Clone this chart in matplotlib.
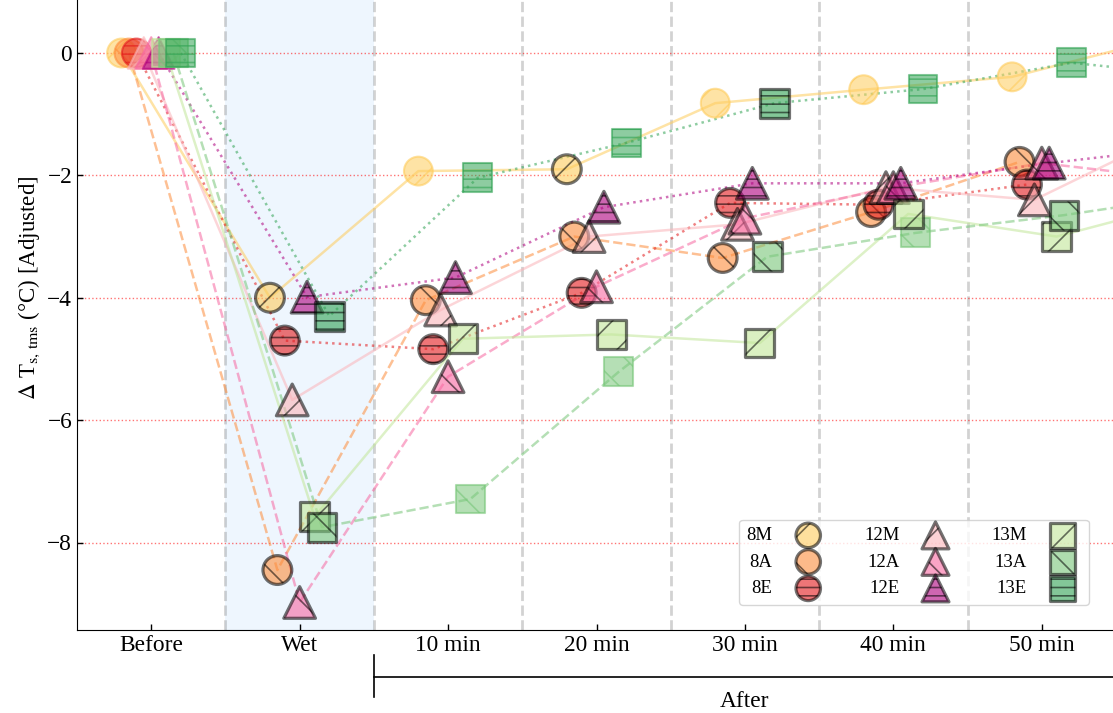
import numpy as np
import matplotlib
matplotlib.use('Agg')
import matplotlib.pyplot as plt
from matplotlib.colors import to_rgba

plt.rcParams['font.family'] = 'serif'
plt.rcParams['font.serif'] = ['Liberation Serif', 'DejaVu Serif']
plt.rcParams['mathtext.fontset'] = 'stix'
plt.rcParams['hatch.linewidth'] = 1.2

#stages on the x axis (60 min lies past the right edge)
stages = ['Before', 'Wet', '10 min', '20 min', '30 min', '40 min', '50 min', '60 min']
labels = ['8M', '8A', '8E', '12M', '12A', '12E', '13M', '13A', '13E']

#change of surface temperature, one value per stage
dT_8M = [0, -4.00, -1.93, -1.90, -0.82, -0.60, -0.39, 0.23]
dT_8A = [0, -8.45, -4.04, -3.00, -3.35, -2.60, -1.78, np.nan]
dT_8E = [0, -4.70, -4.84, -3.92, -2.45, -2.48, -2.15, np.nan]
dT_12M = [0, -5.67, -4.20, -3.00, -2.80, -2.20, -2.40, -1.22]
dT_12A = [0, -8.98, -5.29, -3.82, -2.70, -2.20, -1.80, -2.08]
dT_12E = [0, -3.99, -3.67, -2.52, -2.13, -2.13, -1.80, -1.52]
dT_13M = [0, -7.58, -4.67, -4.60, -4.74, -2.63, -3.00, -2.36]
dT_13A = [0, -7.75, -7.29, -5.21, -3.33, -2.94, -2.65, -2.29]
dT_13E = [0, -4.30, -2.04, -1.47, -0.82, -0.59, -0.16, -0.41]

#1 = significant change (drawn with dark edge), 0 = not significant
sig_8M = [0, 1, 0, 1, 0, 0, 0, 0]
sig_8A = [0, 1, 1, 1, 1, 1, 1, 0]
sig_8E = [0, 1, 1, 1, 1, 1, 1, 0]
sig_12M = [0, 1, 1, 1, 1, 1, 1, 1]
sig_12A = [0, 1, 1, 1, 1, 1, 1, 1]
sig_12E = [0, 1, 1, 1, 1, 1, 1, 1]
sig_13M = [0, 1, 1, 1, 1, 1, 1, 1]
sig_13A = [0, 1, 0, 0, 1, 0, 1, 0]
sig_13E = [0, 1, 0, 0, 1, 0, 0, 0]

values = [dT_8M, dT_8A, dT_8E, dT_12M, dT_12A, dT_12E, dT_13M, dT_13A, dT_13E]
sigs = [sig_8M, sig_8A, sig_8E, sig_12M, sig_12A, sig_12E, sig_13M, sig_13A, sig_13E]

colors = ['#fecc5c', '#fd8d3c', '#e31a1c',
          '#fbb4b9', '#f768a1', '#ae017e',
          '#c2e699', '#78c679', '#31a354']
markers = ['o'] * 3 + ['^'] * 3 + ['s'] * 3
msizes = [430] * 3 + [520] * 3 + [430] * 3
hatches = ['/', '\\', '--'] * 3
lstyles = ['-', '--', ':'] * 3
offsets = np.linspace(-0.2, 0.2, len(labels))

fig = plt.figure(figsize=(11.13, 7.13), dpi=100)
ax = fig.add_axes([77 / 1113, 83 / 713, 1039 / 1113, 630 / 713])

ax.axvspan(0.5, 1.5, color='#eef6fe', lw=0, zorder=0)
for xv in np.arange(0.5, 6.0, 1.0):
    ax.axvline(xv, color='gray', ls='--', lw=2, alpha=0.35, zorder=1)
yticks = [0, -2, -4, -6, -8]
for yv in yticks:
    ax.axhline(yv, color='red', ls=':', lw=1, alpha=0.55, zorder=1)

xpos = np.arange(len(stages))
for k in range(len(labels)):
    x = xpos + offsets[k]
    y = np.array(values[k], dtype=float)
    s = np.array(sigs[k], dtype=bool)
    c = colors[k]
    ax.plot(x, y, ls=lstyles[k], color=c, lw=1.8, alpha=0.55, zorder=2)
    ax.scatter(x[~s], y[~s], marker=markers[k], s=msizes[k], hatch=hatches[k],
               facecolor=to_rgba(c, 0.55), edgecolor=to_rgba(c, 0.6),
               lw=1.5, zorder=3)
    ax.scatter(x[s], y[s], marker=markers[k], s=msizes[k], hatch=hatches[k],
               facecolor=to_rgba(c, 0.6), edgecolor=(0, 0, 0, 0.55),
               lw=2.3, zorder=4, label=labels[k])

ax.set_xticks(xpos)
ax.set_xticklabels(stages, fontsize=16.8)
ax.set_yticks(yticks)
ax.set_yticklabels([str(v).replace('-', '\u2212') for v in yticks], fontsize=16.8)
ax.tick_params(direction='in', length=4, width=1)
ax.set_xlim(-0.5, 6.5)
ax.set_ylim(-9.43, 0.866)
ax.spines['top'].set_visible(False)
ax.spines['right'].set_visible(False)
ax.set_ylabel(r'$\Delta$ T$_{\rm s,\,tms}$ (°C) [Adjusted]', fontsize=16.5)
ax.yaxis.set_label_coords(-0.034, 0.543)

#bracket under the axis marking the stages after wetting
tr = ax.get_xaxis_transform()
ax.plot([1.5, 6.5], [-0.0746, -0.0746], color='black', lw=1.2,
        transform=tr, clip_on=False)
ax.plot([1.5, 1.5], [-0.040, -0.106], color='black', lw=1.2,
        transform=tr, clip_on=False)
ax.text(4.0, -0.113, 'After', transform=tr, ha='center', va='center',
        fontsize=16.8)

ax.legend(loc='lower right', bbox_to_anchor=(0.974, 0.040), borderaxespad=0,
          ncol=3, markerfirst=False, fontsize=13.5, columnspacing=2.0,
          handletextpad=0.9, labelspacing=0.5, markerscale=0.85,
          edgecolor='#cccccc')

fig.savefig('out.png', dpi=100)
